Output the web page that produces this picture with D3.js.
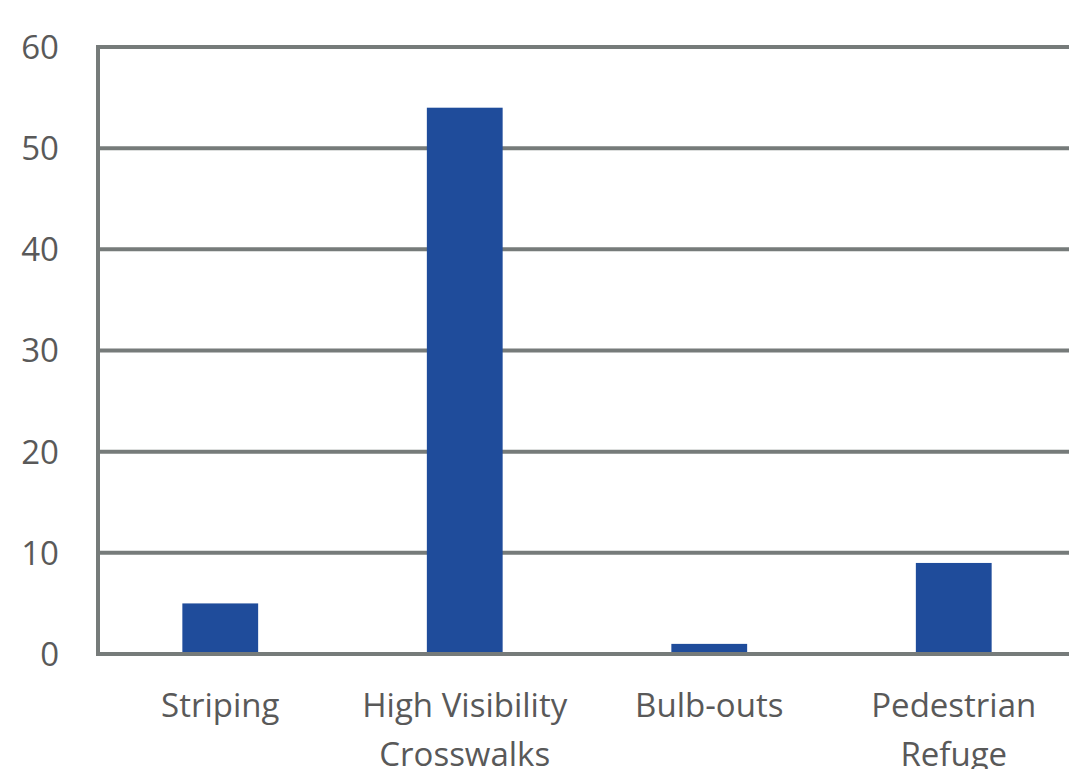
<!DOCTYPE html>
<html>
<head>
<meta charset="utf-8">
<script src="https://cdn.jsdelivr.net/npm/d3@7"></script>
<style>
  html, body { margin: 0; padding: 0; background: #fff; overflow: hidden; }
  .chart { width: 1069px; height: 769px; }
  text { font-family: 'Open Sans', 'Noto Sans', sans-serif; fill: #595959; }
</style>
</head>
<body>
<div class="chart"></div>
<script>
const categories = [['Striping'], ['High Visibility', 'Crosswalks'], ['Bulb-outs'], ['Pedestrian', 'Refuge']];
const counts = [5, 54, 1, 9];
const yTicks = [0, 10, 20, 30, 40, 50, 60];

const svg = d3.select('.chart').append('svg')
    .attr('width', 1069).attr('height', 769);

const x = d3.scaleBand()
    .domain(categories.map(function (d) { return d.join(' '); }))
    .range([98, 1076])
    .paddingInner(0.69)
    .paddingOuter(0.345);

const y = d3.scaleLinear().domain([0, 60]).range([654, 47]);

const gridColor = '#767b7a';

// gridlines
svg.append('g').selectAll('line').data(yTicks)
    .enter().append('line')
    .attr('x1', 98).attr('x2', 1076)
    .attr('y1', function (d) { return y(d); })
    .attr('y2', function (d) { return y(d); })
    .style('stroke', gridColor)
    .style('stroke-width', 4);

// left axis line
svg.append('line')
    .attr('x1', 98).attr('x2', 98)
    .attr('y1', y(60) - 2).attr('y2', y(0) + 2)
    .style('stroke', gridColor)
    .style('stroke-width', 4);

// bars
svg.append('g').selectAll('rect').data(counts)
    .enter().append('rect')
    .attr('x', function (d, i) { return x(categories[i].join(' ')); })
    .attr('width', x.bandwidth())
    .attr('y', function (d) { return y(d); })
    .attr('height', function (d) { return y(0) - 2 - y(d); })
    .style('fill', '#1f4c9b');

// y labels
svg.append('g').selectAll('text').data(yTicks)
    .enter().append('text')
    .attr('x', 59)
    .attr('y', function (d) { return y(d); })
    .attr('dy', '0.36em')
    .attr('text-anchor', 'end')
    .style('font-size', '33px')
    .text(function (d) { return d; });

// x labels
const xl = svg.append('g').selectAll('text').data(categories)
    .enter().append('text')
    .attr('text-anchor', 'middle')
    .style('font-size', '33px');

xl.selectAll('tspan')
    .data(function (d) { return d.map(function (s) { return { s: s, key: d.join(' ') }; }); })
    .enter().append('tspan')
    .attr('x', function (d) { return x(d.key) + x.bandwidth() / 2; })
    .attr('y', function (d, i) { return 717 + i * 49; })
    .text(function (d) { return d.s; });
</script>
</body>
</html>
